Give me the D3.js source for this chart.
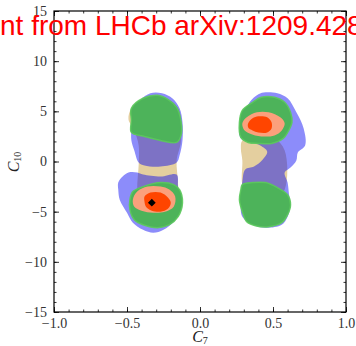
<!DOCTYPE html>
<html>
<head>
<meta charset="utf-8">
<script src="https://cdn.jsdelivr.net/npm/d3@7"></script>
<style>
  html, body { margin: 0; padding: 0; background: #fff; overflow: hidden; }
  svg { display: block; }
</style>
</head>
<body>
<svg id="chart" width="356" height="346"></svg>
<script>
// Axis ticks
const xTicks = [-1.0, -0.5, 0.0, 0.5, 1.0];
const xTickLabels = ["\u22121.0", "\u22120.5", "0.0", "0.5", "1.0"];
const yTicks = [-15, -10, -5, 0, 5, 10, 15];
const yTickLabels = ["\u221215", "\u221210", "\u22125", "0", "5", "10", "15"];
const xMinor = d3.range(-10, 11).map(d => d / 10);
const yMinor = d3.range(-15, 16);

// Allowed regions in the (C7, C10) plane, as [C7, C10] contour points
const tanLeft = [[-0.41,6.1],[-0.24,6.3],[-0.15,5.3],[-0.13,2.1],[-0.16,0.1],[-0.15,-2.3],[-0.16,-5.3],[-0.27,-6.0],[-0.41,-5.6],[-0.43,-2.8],[-0.42,-0.3],[-0.42,1.6],[-0.45,3.1],[-0.49,4.2],[-0.47,5.3]];
const tanRight = [[0.29,2.1],[0.40,2.5],[0.51,2.3],[0.58,1.1],[0.58,-2.8],[0.48,-4.3],[0.34,-3.8],[0.29,-2.3],[0.29,0.1],[0.28,1.3]];

const blueLeftUpper = [[-0.47,3.3],[-0.46,4.9],[-0.41,6.1],[-0.34,6.8],[-0.26,6.8],[-0.19,6.3],[-0.14,5.3],[-0.12,3.9],[-0.12,2.1],[-0.14,0.6],[-0.16,-0.1],[-0.27,-0.5],[-0.38,-0.4],[-0.42,-0.1],[-0.45,1.1],[-0.47,2.1]];
const blueLeftLower = [[-0.56,-2.1],[-0.53,-1.5],[-0.49,-1.1],[-0.43,-1.1],[-0.39,-1.3],[-0.27,-1.5],[-0.16,-1.3],[-0.15,-2.5],[-0.13,-3.8],[-0.14,-5.1],[-0.18,-6.0],[-0.25,-6.8],[-0.32,-7.1],[-0.39,-6.8],[-0.46,-6.1],[-0.50,-5.1],[-0.55,-3.8],[-0.56,-2.8]];
const blueRight = [[0.40,6.7],[0.45,6.9],[0.53,6.8],[0.60,6.3],[0.66,4.9],[0.71,3.3],[0.72,1.6],[0.67,0.9],[0.66,0.1],[0.62,-0.6],[0.58,-1.1],[0.60,-2.1],[0.61,-3.3],[0.62,-4.3],[0.60,-5.5],[0.56,-6.3],[0.45,-6.6],[0.36,-6.3],[0.29,-5.5],[0.28,-3.8],[0.29,-2.0],[0.31,-0.8],[0.37,-0.5],[0.43,0.2],[0.46,1.0],[0.40,1.7],[0.28,2.3],[0.27,3.3],[0.29,4.3],[0.34,5.9]];

const greenLeftUpper = [[-0.47,4.1],[-0.47,5.3],[-0.39,6.3],[-0.29,6.6],[-0.22,6.2],[-0.16,5.4],[-0.13,4.0],[-0.13,2.6],[-0.16,1.9],[-0.27,2.1],[-0.38,2.5],[-0.47,2.9]];
const greenLeftLower = [[-0.48,-3.8],[-0.46,-3.0],[-0.39,-2.5],[-0.27,-2.1],[-0.18,-2.3],[-0.14,-2.8],[-0.12,-4.1],[-0.15,-5.5],[-0.21,-6.3],[-0.29,-6.6],[-0.39,-6.3],[-0.45,-5.8],[-0.48,-4.8]];
const greenRightUpper = [[0.27,3.9],[0.29,5.1],[0.36,5.9],[0.42,6.4],[0.51,6.4],[0.58,5.9],[0.62,4.9],[0.63,3.9],[0.60,2.9],[0.57,2.3],[0.49,1.8],[0.40,1.8],[0.33,1.9],[0.28,2.4]];
const greenRightLower = [[0.28,-2.8],[0.29,-2.3],[0.36,-2.1],[0.45,-2.1],[0.53,-2.6],[0.60,-3.3],[0.62,-4.3],[0.60,-5.3],[0.56,-6.1],[0.47,-6.5],[0.38,-6.4],[0.32,-6.0],[0.29,-5.0],[0.27,-3.8]];

const salmonLeft = [[-0.46,-3.8],[-0.43,-3.0],[-0.36,-2.5],[-0.27,-2.5],[-0.21,-2.8],[-0.17,-3.5],[-0.18,-4.5],[-0.24,-5.0],[-0.32,-5.1],[-0.40,-4.9],[-0.45,-4.5]];
const salmonRight = [[0.29,3.8],[0.32,4.4],[0.39,4.9],[0.47,4.9],[0.55,4.4],[0.58,3.8],[0.56,3.1],[0.51,2.6],[0.42,2.5],[0.34,2.8],[0.30,3.2]];

const orangeLeft = [[-0.38,-3.5],[-0.34,-3.1],[-0.27,-3.1],[-0.22,-3.6],[-0.20,-4.1],[-0.22,-4.7],[-0.27,-5.0],[-0.33,-4.9],[-0.37,-4.5],[-0.38,-4.0]];
const orangeRight = [[0.33,3.8],[0.36,4.3],[0.40,4.5],[0.46,4.4],[0.49,3.9],[0.49,3.3],[0.46,2.9],[0.40,2.9],[0.36,3.1],[0.33,3.4]];

const bestFit = [[-0.33, -4.1]];

const titleText = "Constraint from LHCb arXiv:1209.4284";

// Layout
const svg = d3.select("#chart");
const x = d3.scaleLinear().domain([-1, 1]).range([54, 346]);
const y = d3.scaleLinear().domain([-15, 15]).range([312, 11]);

const line = d3.line()
  .x(d => x(d[0]))
  .y(d => y(d[1]))
  .curve(d3.curveCatmullRomClosed.alpha(0.5));

const plot = svg.append("g");
plot.append("clipPath").attr("id", "clip")
  .append("rect").attr("x", 54).attr("y", 11).attr("width", 292).attr("height", 301);
const regions = plot.append("g").attr("clip-path", "url(#clip)");

function drawLayer(shapes, style) {
  shapes.forEach(s => {
    const p = regions.append("path").attr("d", line(s));
    Object.entries(style).forEach(([k, v]) => p.attr(k, v));
  });
}

drawLayer([tanLeft, tanRight], { fill: "#e4cf9f" });
drawLayer([blueLeftUpper, blueLeftLower, blueRight], { fill: "#0000f5", "fill-opacity": 0.45 });
drawLayer([greenLeftUpper, greenLeftLower, greenRightUpper, greenRightLower],
  { fill: "#4db35a", stroke: "#5cc95c", "stroke-width": 1.5, "stroke-opacity": 0.9 });
drawLayer([salmonLeft, salmonRight], { fill: "#fba07c" });
drawLayer([orangeLeft, orangeRight], { fill: "#ff4500" });

regions.selectAll(".best").data(bestFit).join("path")
  .attr("class", "best")
  .attr("d", d3.symbol(d3.symbolSquare, 30)())
  .attr("transform", d => `translate(${x(d[0])},${y(d[1])}) rotate(45)`)
  .attr("fill", "#000");

// Axes: inward ticks on all four sides
const tickFont = "'Liberation Serif', 'DejaVu Serif', serif";
function styleAxis(g) {
  g.select(".domain").remove();
  g.selectAll("line").attr("stroke", "#000").attr("stroke-width", 0.8);
  g.selectAll("text").attr("font-family", tickFont).attr("font-size", 14).attr("fill", "#333");
}

svg.append("g").attr("transform", "translate(0,312)")
  .call(d3.axisBottom(x).tickValues(xMinor).tickSize(-2.5).tickFormat("")).call(styleAxis);
svg.append("g").attr("transform", "translate(0,11)")
  .call(d3.axisTop(x).tickValues(xMinor).tickSize(-2.5).tickFormat("")).call(styleAxis);
svg.append("g").attr("transform", "translate(54,0)")
  .call(d3.axisLeft(y).tickValues(yMinor).tickSize(-2.5).tickFormat("")).call(styleAxis);
svg.append("g").attr("transform", "translate(346,0)")
  .call(d3.axisRight(y).tickValues(yMinor).tickSize(-2.5).tickFormat("")).call(styleAxis);

svg.append("g").attr("transform", "translate(0,312)")
  .call(d3.axisBottom(x).tickValues(xTicks).tickSize(-5).tickPadding(6)
    .tickFormat((d, i) => xTickLabels[i])).call(styleAxis);
svg.append("g").attr("transform", "translate(0,11)")
  .call(d3.axisTop(x).tickValues(xTicks).tickSize(-5).tickFormat("")).call(styleAxis);
svg.append("g").attr("transform", "translate(54,0)")
  .call(d3.axisLeft(y).tickValues(yTicks).tickSize(-5).tickPadding(7)
    .tickFormat((d, i) => yTickLabels[i])).call(styleAxis);
svg.append("g").attr("transform", "translate(346,0)")
  .call(d3.axisRight(y).tickValues(yTicks).tickSize(-5).tickFormat("")).call(styleAxis);

svg.append("rect")
  .attr("x", 54).attr("y", 11).attr("width", 292).attr("height", 301)
  .attr("fill", "none").attr("stroke", "#000").attr("stroke-width", 1.2);

// Axis titles
const xl = svg.append("text")
  .attr("x", 200).attr("y", 342).attr("text-anchor", "middle")
  .attr("font-family", tickFont).attr("font-size", 16).attr("fill", "#222");
xl.append("tspan").attr("font-style", "italic").text("C");
xl.append("tspan").attr("font-size", 10).attr("dy", 2).text("7");

const yl = svg.append("text")
  .attr("transform", "translate(19,162) rotate(-90)").attr("text-anchor", "middle")
  .attr("font-family", tickFont).attr("font-size", 16).attr("fill", "#222");
yl.append("tspan").attr("font-style", "italic").text("C");
yl.append("tspan").attr("font-size", 10).attr("dy", 2).text("10");

// Title, positioned so that "nt from ..." starts at the left edge
const title = svg.append("text")
  .attr("y", 35)
  .attr("font-family", "'Liberation Sans', Arial, sans-serif")
  .attr("font-size", 28).attr("fill", "#ff0000")
  .text(titleText);
const probe = svg.append("text")
  .attr("font-family", "'Liberation Sans', Arial, sans-serif")
  .attr("font-size", 28).text("Constrai");
const prefixW = probe.node().getComputedTextLength();
probe.remove();
title.attr("x", -prefixW);
</script>
</body>
</html>
